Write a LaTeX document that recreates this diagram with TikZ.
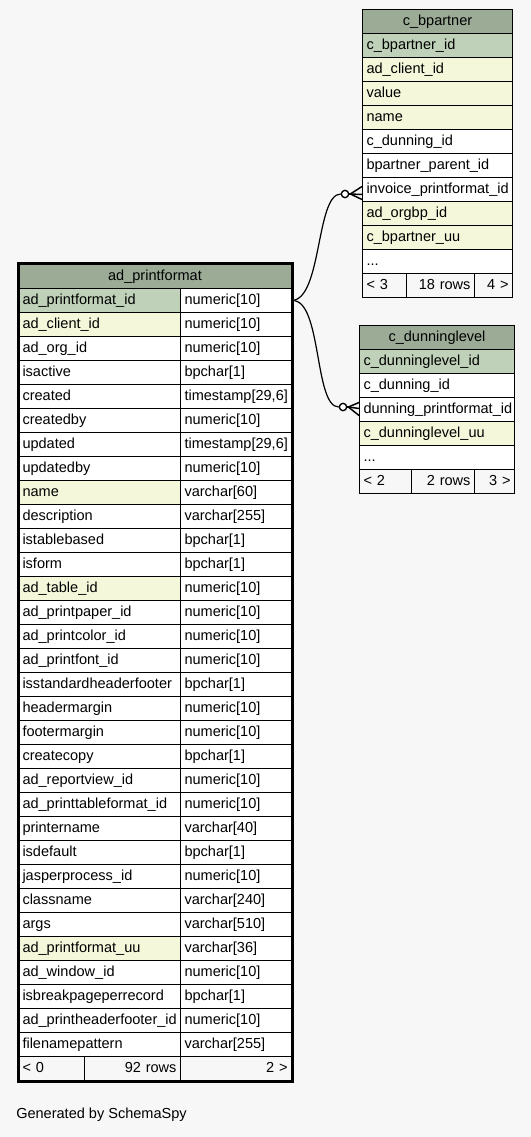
\documentclass[tikz,border=0pt]{standalone}
\usepackage{fontspec}
\setmainfont{Liberation Sans}
\usepackage{tikz}
\usetikzlibrary{calc}
\definecolor{bggray}{RGB}{247,247,247}
\definecolor{hdrgreen}{RGB}{155,171,150}
\definecolor{pkgreen}{RGB}{191,209,184}
\definecolor{idxyellow}{RGB}{244,247,218}
\newcommand{\moredots}{...}

\tikzset{
  cell/.style={draw, line width=0.75pt, anchor=north west, minimum height=18pt,
    inner xsep=3pt, inner ysep=0pt, text height=7.9pt, text depth=2.4pt},
  head/.style={cell, fill=hdrgreen, align=center},
  odot/.style={circle, draw, line width=1pt, fill=white, inner sep=0pt, minimum size=5.5pt},
  rel/.style={line width=0.9pt},
  crow/.style={line width=1.1pt},
}

\begin{document}
\begin{tikzpicture}[x=0.75pt, y=-0.75pt, font=\fontsize{10.9}{13}\selectfont]
  \useasboundingbox[fill=bggray] (0,0) rectangle (531,1137);

  % ad_printformat
  \node[head, minimum width=204.75pt] (pfh) at (18,264) {ad\_printformat};
  \foreach \n/\t/\c [count=\i from 0] in {
      ad\_printformat\_id/numeric[10]/pkgreen, ad\_client\_id/numeric[10]/idxyellow,
      ad\_org\_id/numeric[10]/white, isactive/bpchar[1]/white,
      created/{timestamp[29,6]}/white, createdby/numeric[10]/white,
      updated/{timestamp[29,6]}/white, updatedby/numeric[10]/white,
      name/varchar[60]/idxyellow, description/varchar[255]/white,
      istablebased/bpchar[1]/white, isform/bpchar[1]/white,
      ad\_table\_id/numeric[10]/idxyellow, ad\_printpaper\_id/numeric[10]/white,
      ad\_printcolor\_id/numeric[10]/white, ad\_printfont\_id/numeric[10]/white,
      isstandardheaderfooter/bpchar[1]/white, headermargin/numeric[10]/white,
      footermargin/numeric[10]/white, createcopy/bpchar[1]/white,
      ad\_reportview\_id/numeric[10]/white, ad\_printtableformat\_id/numeric[10]/white,
      printername/varchar[40]/white, isdefault/bpchar[1]/white,
      jasperprocess\_id/numeric[10]/white, classname/varchar[240]/white,
      args/varchar[510]/white, ad\_printformat\_uu/varchar[36]/idxyellow,
      ad\_window\_id/numeric[10]/white, isbreakpageperrecord/bpchar[1]/white,
      ad\_printheaderfooter\_id/numeric[10]/white, filenamepattern/varchar[255]/white} {
    \node[cell, fill=\c, text width=115.5pt, align=left] (pfn\i) at (18,{288+24*\i}) {\n};
    \node[cell, fill=white, text width=77.25pt, align=left] (pft\i) at (180,{288+24*\i}) {\t};
  }
  \node[cell, text width=43.5pt, align=left] (pff0) at (18,1056) {< 0};
  \node[cell, text width=66pt, align=right] (pff1) at (84,1056) {92 rows};
  \node[cell, text width=77.25pt, align=right] (pff2) at (180,1056) {2 >};
  \draw[line width=2.25pt] (pfh.north west) rectangle (pff2.south east);

  % c_bpartner
  \node[head, minimum width=112.5pt] (bph) at (362,9) {c\_bpartner};
  \foreach \n/\c [count=\i from 0] in {
      c\_bpartner\_id/pkgreen, ad\_client\_id/idxyellow, value/idxyellow,
      name/idxyellow, c\_dunning\_id/white, bpartner\_parent\_id/white,
      invoice\_printformat\_id/white, ad\_orgbp\_id/idxyellow,
      c\_bpartner\_uu/idxyellow, \moredots/white} {
    \node[cell, fill=\c, text width=106.5pt, align=left] (bpn\i) at (362,{33+24*\i}) {\n};
  }
  \node[cell, text width=27pt, align=left] (bpf0) at (362,273) {< 3};
  \node[cell, text width=45pt, align=right] (bpf1) at (406,273) {18 rows};
  \node[cell, text width=22.5pt, align=right] (bpf2) at (474,273) {4 >};

  % c_dunninglevel
  \node[head, minimum width=116.25pt] (dlh) at (359,325) {c\_dunninglevel};
  \foreach \n/\c [count=\i from 0] in {
      c\_dunninglevel\_id/pkgreen, c\_dunning\_id/white,
      dunning\_printformat\_id/white, c\_dunninglevel\_uu/idxyellow, \moredots/white} {
    \node[cell, fill=\c, text width=110.25pt, align=left] (dln\i) at (359,{349+24*\i}) {\n};
  }
  \node[cell, text width=33pt, align=left] (dlf0) at (359,469) {< 2};
  \node[cell, text width=41.25pt, align=right] (dlf1) at (411,469) {2 rows};
  \node[cell, text width=24pt, align=right] (dlf2) at (474,469) {3 >};

  % relations
  \coordinate (bpe) at ($(bpn6.west)+(0,5)$);
  \node[odot] (bpo) at (345,194) {};
  \draw[rel] (pft0.east) .. controls (322,299) and (316,194) .. (bpo.west);
  \coordinate (bpv) at ($(bpo.east)+(1,0)$);
  \draw[crow] (bpo.east) -- (bpv);
  \draw[crow] (bpv) -- ($(bpe)+(0,-8)$);
  \draw[crow] (bpv) -- (bpe);
  \draw[crow] (bpv) -- ($(bpe)+(0,5)$);

  \coordinate (dle) at ($(dln2.west)+(0,-1)$);
  \node[odot] (dlo) at (343,407) {};
  \draw[rel] (pft0.east) .. controls (322,299) and (314,407) .. (dlo.west);
  \coordinate (dlv) at ($(dlo.east)+(1,0)$);
  \draw[crow] (dlo.east) -- (dlv);
  \draw[crow] (dlv) -- ($(dle)+(0,-6)$);
  \draw[crow] (dlv) -- (dle);
  \draw[crow] (dlv) -- ($(dle)+(0,7)$);

  \node[anchor=west, inner sep=0pt] (gen) at (16,1115) {Generated by SchemaSpy};
\end{tikzpicture}
\end{document}
